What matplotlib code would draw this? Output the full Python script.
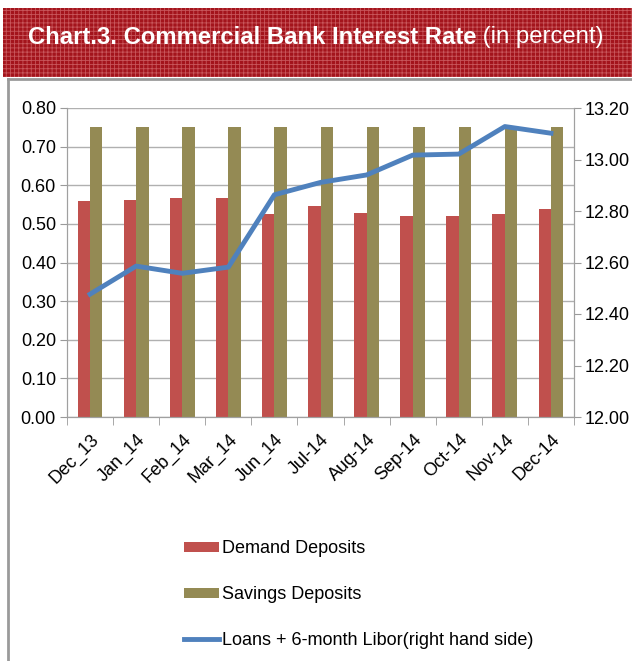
import matplotlib.pyplot as plt
import matplotlib.patches as mpatches
import matplotlib.lines as mlines
import numpy as np

# Data
months = ['Dec_13', 'Jan_14', 'Feb_14', 'Mar_14', 'Jun_14', 'Jul-14',
          'Aug-14', 'Sep-14', 'Oct-14', 'Nov-14', 'Dec-14']
demand = [0.559, 0.563, 0.567, 0.566, 0.525, 0.545, 0.529, 0.521, 0.521, 0.525, 0.538]
savings = [0.75, 0.75, 0.75, 0.75, 0.75, 0.75, 0.75, 0.75, 0.75, 0.75, 0.75]
loans_libor = [12.477, 12.586, 12.558, 12.582, 12.863, 12.911, 12.940, 13.017, 13.021, 13.128, 13.102]

plt.rcParams['font.family'] = ['Liberation Sans', 'DejaVu Sans']
plt.rcParams['hatch.linewidth'] = 0.6

fig = plt.figure(figsize=(6.32, 6.61), dpi=100)

# Title band
band = mpatches.Rectangle((3/632, 1-77/661), 1, 69/661, transform=fig.transFigure,
                          facecolor='#a3141c', edgecolor='#c8565b', hatch='++++',
                          linewidth=0, zorder=0)
fig.patches.append(band)
t1 = fig.text(28/632, 1-37/661, 'Chart.3. Commercial Bank Interest Rate', color='white',
              fontsize=17.2, fontweight='bold', va='center', ha='left')
fig.add_artist(plt.Annotation(' (in percent)', xy=(1, 0.5), xycoords=t1, color='white',
                              fontsize=17.2, va='center', ha='left'))

# Frame below title
fig.add_artist(mlines.Line2D([8/632, 8/632], [0, 1-79/661], transform=fig.transFigure,
                             color='#9a9a9a', lw=2))
fig.add_artist(mlines.Line2D([8/632, 1], [1-79/661, 1-79/661], transform=fig.transFigure,
                             color='#9a9a9a', lw=2))

ax = fig.add_axes([67/632, 1-417/661, 507/632, 309/661])
x = np.arange(len(months))
w = 0.27
ax.bar(x - w/2, demand, width=w, color='#c0504d', zorder=2, label='Demand Deposits')
ax.bar(x + w/2, savings, width=w, color='#948a54', zorder=2, label='Savings Deposits')
ax.set_ylim(0, 0.8)
ax.set_xlim(-0.5, len(months) - 0.5)
ax.set_yticks(np.arange(0, 0.81, 0.1))
ax.set_yticklabels(['%.2f' % v for v in np.arange(0, 0.81, 0.1)], fontsize=13)
ax.yaxis.grid(True, color='#b0b0b0', lw=1, zorder=0)
ax.set_axisbelow(True)
ax.set_xticks(x)
ax.set_xticklabels(months, rotation=45, ha='right', rotation_mode='anchor', fontsize=13)
ax.tick_params(axis='x', length=0, pad=10)
ax.set_xticks(np.arange(-0.5, len(months)), minor=True)
ax.tick_params(axis='x', which='minor', length=6, color='#9a9a9a')
ax.tick_params(axis='y', length=5, color='#9a9a9a', pad=3)
ax.spines['top'].set_visible(False)
for s in ['left', 'bottom', 'right']:
    ax.spines[s].set_color('#a0a0a0')

ax2 = ax.twinx()
ax2.plot(x, loans_libor, color='#4f81bd', lw=3.5, zorder=3,
         label='Loans + 6-month Libor(right hand side)')
ax2.set_ylim(12.0, 13.2)
ax2.set_yticks(np.arange(12.0, 13.21, 0.2))
ax2.set_yticklabels(['%.2f' % v for v in np.arange(12.0, 13.21, 0.2)], fontsize=13)
ax2.tick_params(axis='y', length=5, color='#9a9a9a', pad=3)
ax2.spines['top'].set_visible(False)
for s in ['left', 'bottom', 'right']:
    ax2.spines[s].set_color('#a0a0a0')

h1, l1 = ax.get_legend_handles_labels()
h2, l2 = ax2.get_legend_handles_labels()
fig.legend(h1 + h2, l1 + l2, loc='upper left', bbox_to_anchor=(168/632, 1-524/661),
           frameon=False, fontsize=13, handlelength=1.9, handleheight=0.5,
           handletextpad=0.2, labelspacing=1.6)

plt.savefig('out.png', dpi=100)
